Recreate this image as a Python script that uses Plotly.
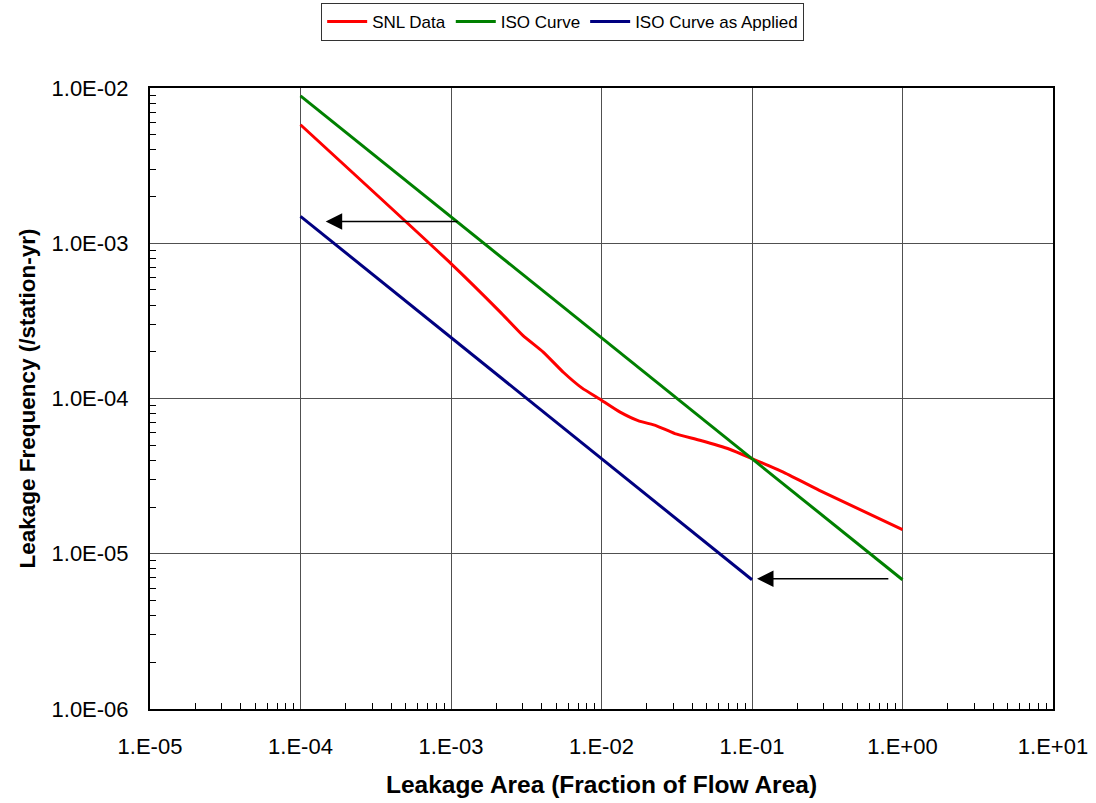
import numpy as np
import plotly.graph_objects as go

# ---- data ----
snl_x = [1e-4, 1e-3, 2.11e-3, 3.0e-3, 4.1e-3, 5.6e-3, 7.4e-3, 1e-2, 1.32e-2, 1.75e-2,
         2.32e-2, 3.07e-2, 4.5e-2, 7.1e-2, 1e-1, 1.6e-1, 2.8e-1, 1.0]
snl_y = [5.8e-3, 7.4e-4, 3.63e-4, 2.55e-4, 1.99e-4, 1.47e-4, 1.17e-4, 9.75e-5, 8.2e-5, 7.2e-5,
         6.67e-5, 5.94e-5, 5.38e-5, 4.71e-5, 4.1e-5, 3.37e-5, 2.56e-5, 1.43e-5]
iso_x = [1e-4, 1.0]
iso_y = [8.9e-3, 6.8e-6]
iso_applied_x = [1e-4, 1e-1]
iso_applied_y = [1.49e-3, 6.8e-6]

# arrows: (tail_x, tail_y, head_x, head_y)
arrow1 = (1.13e-3, 1.38e-3, 1.47e-4, 1.38e-3)
arrow2 = (0.824, 6.9e-6, 0.108, 6.9e-6)

x_tickvals = [1e-5, 1e-4, 1e-3, 1e-2, 1e-1, 1e0, 1e1]
x_ticktext = ["1.E-05", "1.E-04", "1.E-03", "1.E-02", "1.E-01", "1.E+00", "1.E+01"]
y_tickvals = [1e-6, 1e-5, 1e-4, 1e-3, 1e-2]
y_ticktext = ["1.0E-06", "1.0E-05", "1.0E-04", "1.0E-03", "1.0E-02"]

x_minor = [m * d for d in x_tickvals[:-1] for m in range(2, 10)]
y_minor = [m * d for d in y_tickvals[:-1] for m in range(2, 10)]

FONT = "Liberation Sans, Arial, sans-serif"

fig = go.Figure()
fig.add_trace(go.Scatter(x=snl_x, y=snl_y, mode="lines", name="SNL Data",
                         line=dict(color="#FF0000", width=3, shape="spline", smoothing=0.5)))
fig.add_trace(go.Scatter(x=iso_x, y=iso_y, mode="lines", name="ISO Curve",
                         line=dict(color="#008000", width=3)))
fig.add_trace(go.Scatter(x=iso_applied_x, y=iso_applied_y, mode="lines", name="ISO Curve as Applied",
                         line=dict(color="#000080", width=3)))

for tx, ty, hx, hy in (arrow1, arrow2):
    fig.add_annotation(x=np.log10(hx), y=np.log10(hy), ax=np.log10(tx), ay=np.log10(ty),
                       xref="x", yref="y", axref="x", ayref="y", text="",
                       showarrow=True, arrowhead=2, arrowsize=2.2, arrowwidth=1.5,
                       arrowcolor="black", standoff=0)

axis_common = dict(
    type="log", showline=True, linecolor="black", linewidth=2, mirror=True,
    showgrid=True, gridcolor="#505050", gridwidth=1, ticks="", zeroline=False,
    tickfont=dict(family=FONT, size=22, color="black"),
)

fig.update_xaxes(**axis_common, range=[-5, 1], tickmode="array",
                 tickvals=x_tickvals, ticktext=x_ticktext, ticklabelstandoff=17,
                 minor=dict(ticks="inside", ticklen=6, tickcolor="black", tickwidth=1,
                            tickmode="array", tickvals=x_minor, showgrid=False),
                 title=dict(text="<b>Leakage Area (Fraction of Flow Area)</b>",
                            font=dict(family=FONT, size=24.5, color="black"), standoff=17))
fig.update_yaxes(**axis_common, range=[-6, -2], tickmode="array",
                 tickvals=y_tickvals, ticktext=y_ticktext, ticklabelstandoff=15,
                 minor=dict(ticks="inside", ticklen=6, tickcolor="black", tickwidth=1,
                            tickmode="array", tickvals=y_minor, showgrid=False),
                 title=dict(text="<b>Leakage Frequency (/station-yr)</b>",
                            font=dict(family=FONT, size=22.5, color="black"), standoff=10))

fig.update_layout(
    width=1096, height=803,
    margin=dict(l=150, r=43, t=88, b=94, autoexpand=False),
    paper_bgcolor="white", plot_bgcolor="white",
    font=dict(family=FONT, color="black"),
    legend=dict(orientation="h", x=0.457, xanchor="center", y=1.137, yanchor="top",
                bordercolor="#333", borderwidth=1, bgcolor="white",
                font=dict(family=FONT, size=17, color="black"),
                itemwidth=40, tracegroupgap=0),
    showlegend=True,
)

fig.write_html("out.html", config={"displayModeBar": False},
               post_script="document.body.style.margin='0';")
